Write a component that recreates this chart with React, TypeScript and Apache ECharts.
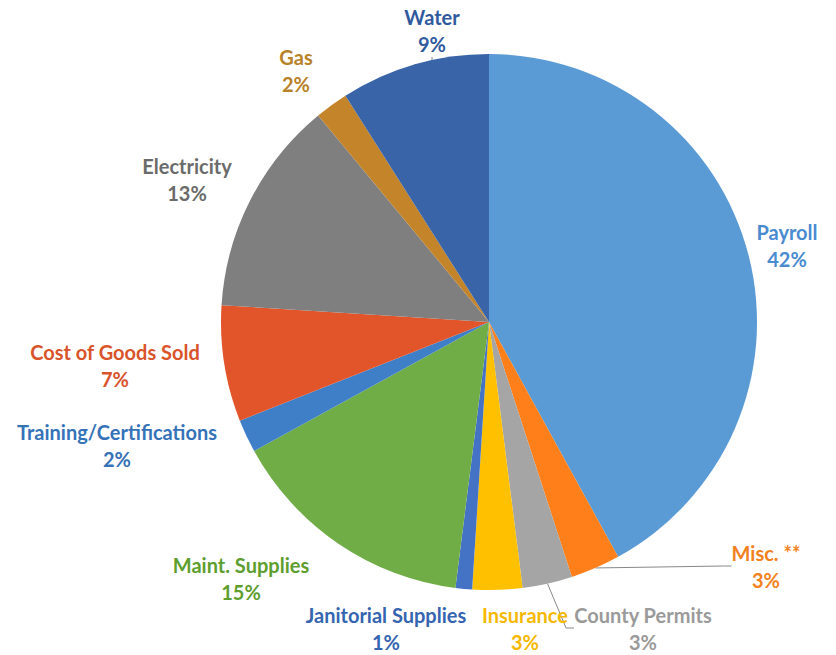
import React, { useEffect, useRef } from "react";
import * as echarts from "echarts";

const categories = [
  "Payroll",
  "Misc. **",
  "County Permits",
  "Insurance",
  "Janitorial Supplies",
  "Maint. Supplies",
  "Training/Certifications",
  "Cost of Goods Sold",
  "Electricity",
  "Gas",
  "Water",
];
const values = [42, 3, 3, 3, 1, 15, 2, 7, 13, 2, 9];
const sliceColors = [
  "#5B9BD5",
  "#FF7F1A",
  "#A5A5A5",
  "#FFC000",
  "#4472C4",
  "#70AD47",
  "#3F7FC8",
  "#E2542A",
  "#7F7F7F",
  "#C3842A",
  "#3A64A8",
];
const labelColors = [
  "#4A8BD0",
  "#F28120",
  "#9A9A9A",
  "#F5B800",
  "#3565B0",
  "#5E9E2E",
  "#3572B8",
  "#D9532B",
  "#6B6B6B",
  "#B8822A",
  "#2F5A9E",
];
const labelPos: [number, number][] = [
  [787, 245],
  [766, 566],
  [643, 628],
  [525, 628],
  [386, 628],
  [241, 578],
  [117, 445],
  [115, 365],
  [187, 179],
  [296, 70],
  [432, 30],
];
const showLine = [false, true, true, false, false, false, false, false, false, false, true];

export default function App() {
  const ref = useRef<HTMLDivElement>(null);
  useEffect(() => {
    document.body.style.margin = "0";
    const chart = echarts.init(ref.current!, null, { renderer: "svg" });
    const data = categories.map((name, i) => ({
      name,
      value: values[i],
      itemStyle: { color: sliceColors[i] },
      label: { color: labelColors[i] },
      labelLine: { show: showLine[i] },
    }));
    chart.setOption({
      animation: false,
      backgroundColor: "#ffffff",
      series: [
        {
          type: "pie",
          center: [489, 322],
          radius: 268,
          startAngle: 90,
          clockwise: true,
          percentPrecision: 0,
          data,
          itemStyle: { borderWidth: 0 },
          label: {
            show: true,
            formatter: "{b}\n{d}%",
            fontFamily: "Lato, 'Open Sans', sans-serif",
            fontWeight: "bold",
            fontSize: 20,
            lineHeight: 27,
            align: "center",
            overflow: "none",
            edgeDistance: 0,
          },
          labelLine: {
            show: false,
            length: 8,
            length2: 8,
            lineStyle: { color: "#888888", width: 1 },
          },
          labelLayout: (params: any) => {
            const p = labelPos[params.dataIndex];
            return {
              x: p[0],
              y: p[1],
              align: "center",
              verticalAlign: "middle",
            };
          },
        },
      ],
    });
    return () => chart.dispose();
  }, []);
  return <div ref={ref} style={{ width: 836, height: 655 }} />;
}
